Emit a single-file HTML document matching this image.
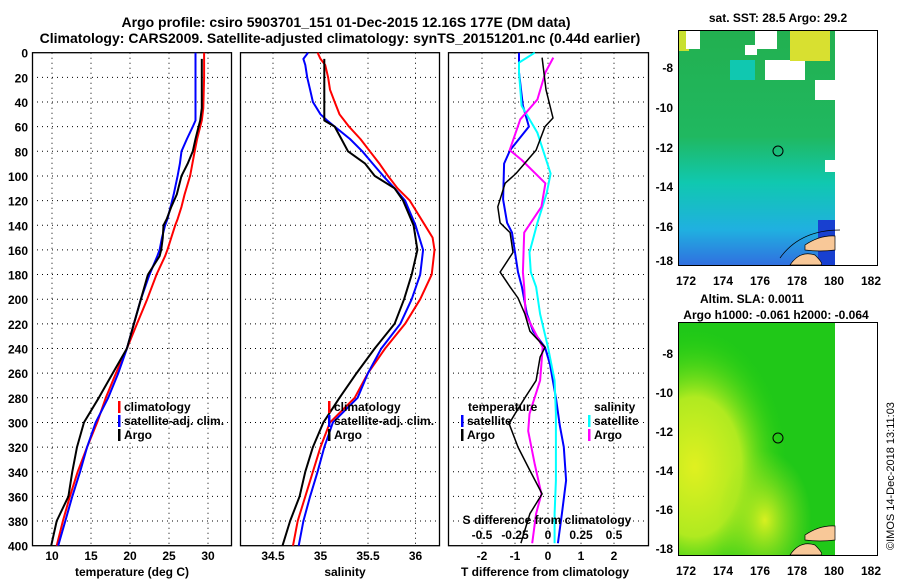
<!DOCTYPE html>
<html><head><meta charset="utf-8"><style>
html,body{margin:0;padding:0;background:#fff;}
svg{display:block;font-family:"Liberation Sans",sans-serif;font-weight:bold;}
</style></head><body>
<svg id="chart" width="900" height="580" viewBox="0 0 900 580" xmlns="http://www.w3.org/2000/svg">
<text x="346" y="27" font-size="14" text-anchor="middle">Argo profile: csiro 5903701_151 01-Dec-2015 12.16S 177E (DM data)</text>
<text x="340" y="43" font-size="14" text-anchor="middle">Climatology: CARS2009. Satellite-adjusted climatology: synTS_20151201.nc (0.44d earlier)</text>
<g id="plots"></g>
<g id="maps">
  <text x="778" y="22" font-size="12" text-anchor="middle">sat. SST: 28.5 Argo: 29.2</text>
  <defs>
    <linearGradient id="sstg" x1="0" y1="0" x2="0" y2="1">
      <stop offset="0" stop-color="#22b050"/><stop offset="0.45" stop-color="#20b860"/>
      <stop offset="0.65" stop-color="#10c8b0"/><stop offset="0.85" stop-color="#20b0e0"/><stop offset="1" stop-color="#3070e0"/>
    </linearGradient>
    <radialGradient id="slay" cx="0.1" cy="0.62" r="0.6">
      <stop offset="0" stop-color="#e0f020"/><stop offset="0.5" stop-color="#b0ea20"/><stop offset="1" stop-color="#20d010" stop-opacity="0"/>
    </radialGradient>
    <radialGradient id="slay2" cx="0.55" cy="0.85" r="0.3">
      <stop offset="0" stop-color="#d8f020"/><stop offset="1" stop-color="#90e020" stop-opacity="0"/>
    </radialGradient>
  </defs>
  <rect x="679" y="31" width="156" height="234" fill="url(#sstg)"/>
  <rect x="679" y="31" width="10" height="20" fill="#c8e030"/>
  <rect x="686" y="31" width="14" height="18" fill="#fff"/>
  <rect x="755" y="31" width="22" height="18" fill="#fff"/>
  <rect x="745" y="45" width="12" height="10" fill="#fff"/>
  <rect x="765" y="60" width="40" height="20" fill="#fff"/>
  <rect x="790" y="31" width="40" height="30" fill="#d8e030"/>
  <rect x="730" y="60" width="25" height="20" fill="#10c8b0"/>
  <rect x="815" y="80" width="20" height="20" fill="#fff"/>
  <rect x="825" y="160" width="10" height="12" fill="#fff"/>
  <rect x="818" y="220" width="17" height="45" fill="#1840d0"/>
  <rect x="678.5" y="30.5" width="199" height="235" fill="none" stroke="#000"/>
  <circle cx="778" cy="151" r="5" fill="none" stroke="#000"/>
  <path d="M790 265 Q800 250 815 255 Q825 265 820 265 Z" fill="#f8c898" stroke="#000" stroke-width="0.7"/>
  <path d="M805 245 Q820 235 835 236 L835 250 Q820 252 805 250Z" fill="#f8c898" stroke="#000" stroke-width="0.7"/>
  <path d="M780 258 Q800 230 840 230" fill="none" stroke="#000" stroke-width="0.7"/>
  <g font-size="12" text-anchor="end">
    <text x="673" y="72">-8</text><text x="673" y="112">-10</text><text x="673" y="152">-12</text><text x="673" y="191">-14</text><text x="673" y="231">-16</text><text x="673" y="265">-18</text>
  </g>
  <g font-size="12" text-anchor="middle">
    <text x="686" y="285">172</text><text x="723" y="285">174</text><text x="760" y="285">176</text><text x="797" y="285">178</text><text x="834" y="285">180</text><text x="871" y="285">182</text>
  </g>
  <text x="752" y="303" font-size="12" text-anchor="middle">Altim. SLA: 0.0011</text>
  <text x="776" y="319" font-size="12" text-anchor="middle">Argo h1000: -0.061 h2000: -0.064</text>
  <rect x="679" y="323" width="156" height="232" fill="#20c818"/>
  <rect x="679" y="323" width="156" height="232" fill="url(#slay)"/>
  <rect x="679" y="323" width="156" height="232" fill="url(#slay2)"/>
  <rect x="678.5" y="322.5" width="199" height="233" fill="none" stroke="#000"/>
  <circle cx="778" cy="438" r="5" fill="none" stroke="#000"/>
  <path d="M790 555 Q800 540 815 545 Q825 555 820 555 Z" fill="#f8c898" stroke="#000" stroke-width="0.7"/>
  <path d="M805 535 Q820 525 835 526 L835 540 Q820 542 805 540Z" fill="#f8c898" stroke="#000" stroke-width="0.7"/>
  <g font-size="12" text-anchor="end">
    <text x="673" y="358">-8</text><text x="673" y="397">-10</text><text x="673" y="436">-12</text><text x="673" y="475">-14</text><text x="673" y="514">-16</text><text x="673" y="553">-18</text>
  </g>
  <g font-size="12" text-anchor="middle">
    <text x="686" y="575">172</text><text x="723" y="575">174</text><text x="760" y="575">176</text><text x="797" y="575">178</text><text x="834" y="575">180</text><text x="871" y="575">182</text>
  </g>
  <text transform="translate(894,550) rotate(-90)" font-size="11" font-weight="normal">©IMOS 14-Dec-2018 13:11:03</text>
</g>
</svg>
<script>
// ---- data ----
const depthTicks = [0,20,40,60,80,100,120,140,160,180,200,220,240,260,280,300,320,340,360,380,400];
const tempTicks = [10,15,20,25,30];
const salTicks = [34.5,35,35.5,36];
const tdiffTicks = [-2,-1,0,1,2];
const sdiffTicks = [-0.5,-0.25,0,0.25,0.5];
const tempDepth = [0,5,20,45,55,60,70,80,90,100,115,125,135,140,150,160,165,180,200,220,240,260,280,300,320,340,360,380,400];
const tempArgo  = [null,29.2,29.2,29.2,29.0,28.8,28.4,28.05,27.4,26.6,26.0,25.3,24.7,24.3,24.2,24.0,23.8,22.3,21.4,20.5,19.6,17.8,16.0,14.1,13.2,12.6,12.1,10.6,9.9];
const tempSat   = [28.4,28.4,28.4,28.4,28.4,28.05,27.3,26.6,26.4,26.1,25.6,25.2,24.8,24.5,24.1,23.8,23.5,22.5,21.4,20.5,19.6,18.5,17.2,15.6,14.5,13.6,12.6,11.7,10.8];
const tempClim  = [29.5,29.5,29.5,29.4,29.2,29.0,28.6,28.3,28.0,27.7,27.0,26.6,26.1,25.8,25.3,24.8,24.5,23.4,22.2,20.9,19.6,18.2,16.9,15.8,14.5,13.3,12.3,11.4,10.6];
const salDepth = [0,5,10,20,30,40,50,55,60,70,80,90,100,110,120,140,150,160,180,200,220,240,260,280,300,320,340,360,380,400];
const salArgo  = [null,35.04,35.04,35.04,35.04,35.04,35.04,35.04,35.15,35.22,35.29,35.47,35.57,35.78,35.87,35.98,36.0,36.02,35.96,35.88,35.78,35.57,35.38,35.2,35.03,34.92,34.84,34.78,34.68,34.6];
const salSat   = [34.87,34.82,34.84,34.86,34.89,34.92,35.0,35.07,35.15,35.31,35.44,35.55,35.66,35.78,35.89,36.0,36.04,36.08,36.05,35.96,35.84,35.64,35.5,35.39,35.13,35.04,34.97,34.89,34.82,34.77];
const salClim  = [34.97,35.0,35.05,35.08,35.1,35.15,35.2,35.25,35.3,35.42,35.52,35.62,35.71,35.81,35.94,36.1,36.18,36.2,36.17,36.05,35.89,35.68,35.5,35.36,35.1,35.0,34.92,34.84,34.76,34.71];
const tdArgoDepth = [4,30,53,60,79,98,106,125,138,146,162,178,190,199,212,226,239,247,266,280,293,301,320,339,358,374,398];
const tdArgo      = [-0.18,-0.06,0.15,-0.09,-0.36,-0.97,-1.3,-1.52,-1.45,-1.15,-1.06,-1.45,-1.15,-0.91,-0.7,-0.55,-0.09,-0.24,-0.36,-0.7,-1.0,-1.18,-0.91,-0.55,-0.18,-0.55,-0.82];
const tdSatDepth = [0,16,43,60,79,90,119,138,146,162,178,190,212,226,239,253,280,303,320,347,374,398];
const tdSat      = [-0.88,-0.88,-0.76,-0.58,-1.15,-1.33,-1.36,-1.24,-1.09,-1.0,-0.91,-0.79,-0.64,-0.45,-0.09,0.06,0.24,0.36,0.48,0.55,0.42,0.3];
const sdSatDepth = [0,8,16,43,65,98,114,138,162,178,190,212,239,266,293,320,347,374,398];
const sdSat      = [-0.1,-0.22,-0.22,-0.2,-0.08,0.02,-0.01,-0.08,-0.14,-0.13,-0.09,-0.06,0.0,0.05,0.06,0.06,0.06,0.05,0.05];
const sdArgoDepth = [4,16,38,54,79,87,106,125,146,178,190,212,239,266,293,307,334,358,374,398];
const sdArgo      = [0.04,-0.02,-0.08,-0.21,-0.29,-0.2,-0.02,-0.05,-0.18,-0.19,-0.18,-0.17,-0.04,-0.06,-0.14,-0.15,-0.1,-0.05,-0.09,-0.12];

const NS='http://www.w3.org/2000/svg';
const root=document.getElementById('plots');
function mk(tag,attrs,parent){const e=document.createElementNS(NS,tag);for(const k in attrs)e.setAttribute(k,attrs[k]);(parent||root).appendChild(e);return e;}
const Y0=52.7, YPX=1.2325;
const yScale=d=>Y0+d*YPX;
const panels=[
 {name:'temperature-panel',x0:32,x1:231,sx:v=>52+(v-10)*7.8,ticks:tempTicks,title:'temperature (deg C)',tx:132},
 {name:'salinity-panel',x0:240,x1:439,sx:v=>273+(v-34.5)*95,ticks:salTicks,title:'salinity',tx:345},
 {name:'difference-panel',x0:448,x1:648,sx:v=>548+v*33,ticks:tdiffTicks,title:'T difference from climatology',tx:545}
];
const sdScale=v=>548+v*132;
panels.forEach((p,pi)=>{
  const g=mk('g',{});
  
  
  // grid
  depthTicks.forEach(d=>{ if(d>0&&d<400){const l=mk('line',{x1:p.x0,x2:p.x1,y1:yScale(d),y2:yScale(d),stroke:'#000','stroke-dasharray':'1 4','stroke-width':1},g);
    }});
  p.ticks.forEach(t=>{const x=p.sx(t);const l=mk('line',{x1:x,x2:x,y1:Y0,y2:yScale(400),stroke:'#000','stroke-dasharray':'1 4','stroke-width':1},g);
    
    const tx=mk('text',{x:x,y:560,'font-size':12,'text-anchor':'middle'},g);tx.textContent=String(t);
    });
  const fr=mk('rect',{x:p.x0+0.5,y:Y0,width:p.x1-p.x0,height:400*YPX,fill:'none',stroke:'#000','stroke-width':1.3},g);
  
  const at=mk('text',{x:p.tx,y:576,'font-size':12,'text-anchor':'middle'},g);at.textContent=p.title;
  
});
depthTicks.forEach(d=>{const t=mk('text',{x:28,y:yScale(d)+5,'font-size':12,'text-anchor':'end'});t.textContent=String(d);
  });
function line(depths,vals,sx,color,w,name){
  let pts=[];depths.forEach((d,i)=>{if(vals[i]!==null)pts.push(sx(vals[i]).toFixed(1)+','+yScale(d).toFixed(1));});
  const l=mk('polyline',{points:pts.join(' '),fill:'none',stroke:color,'stroke-width':w,'stroke-linejoin':'round'});
  
  
}
line(tempDepth,tempClim,panels[0].sx,'#f00',2,'temp-climatology-line');
line(tempDepth,tempSat,panels[0].sx,'#00f',2,'temp-satellite-line');
line(tempDepth,tempArgo,panels[0].sx,'#000',2,'temp-argo-line');
line(salDepth,salClim,panels[1].sx,'#f00',2,'sal-climatology-line');
line(salDepth,salSat,panels[1].sx,'#00f',2,'sal-satellite-line');
line(salDepth,salArgo,panels[1].sx,'#000',2,'sal-argo-line');
line(tdSatDepth,tdSat,panels[2].sx,'#00f',2,'tdiff-satellite-line');
line(sdSatDepth,sdSat,sdScale,'#0ff',2,'sdiff-satellite-line');
line(sdArgoDepth,sdArgo,sdScale,'#f0f',2,'sdiff-argo-line');
line(tdArgoDepth,tdArgo,panels[2].sx,'#000',1.5,'tdiff-argo-line');
// S diff axis labels
const st=mk('text',{x:547,y:524,'font-size':12,'text-anchor':'middle'});st.textContent='S difference from climatology';

sdiffTicks.forEach(v=>{const t=mk('text',{x:sdScale(v),y:539,'font-size':12,'text-anchor':'middle'});t.textContent=String(v);
  });
// legends
function leg(x,y,color,label){const g=mk('g',{});
  
  if(color)mk('rect',{x:x,y:y-10,width:2.5,height:12,fill:color},g);
  const t=mk('text',{x:color?x+6:x,y:y,'font-size':12},g);t.textContent=label;}
leg(118,411,'#f00','climatology');leg(118,425,'#00f','satellite-adj. clim.');leg(118,439,'#000','Argo');
leg(328,411,'#f00','climatology');leg(328,425,'#00f','satellite-adj. clim.');leg(328,439,'#000','Argo');
leg(468,411,null,'temperature');leg(461,425,'#00f','satellite');leg(461,439,'#000','Argo');
leg(594,411,null,'salinity');leg(588,425,'#0ff','satellite');leg(588,439,'#f0f','Argo');
</script>
</body></html>
